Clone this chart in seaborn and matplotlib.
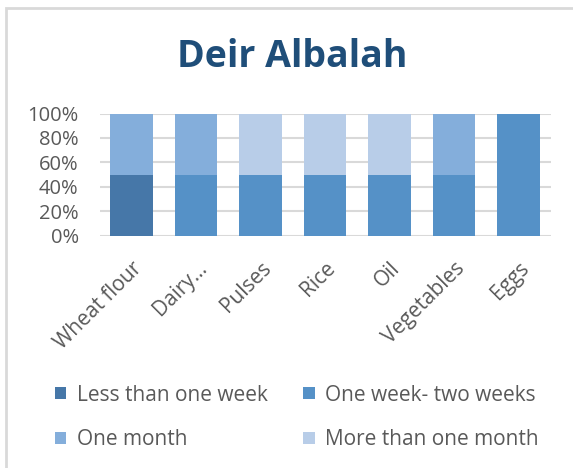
import matplotlib
matplotlib.use("Agg")
import matplotlib.pyplot as plt
import seaborn as sns
import pandas as pd
import numpy as np
from matplotlib.patches import Rectangle, Patch
from matplotlib.ticker import FuncFormatter

categories = ["Wheat flour", "Dairy…", "Pulses", "Rice", "Oil", "Vegetables", "Eggs"]
series_names = ["Less than one week", "One week- two weeks", "One month", "More than one month"]
less_than_week = [50, 0, 0, 0, 0, 0, 0]
one_two_weeks = [0, 50, 50, 50, 50, 50, 100]
one_month = [50, 50, 0, 0, 0, 50, 0]
more_than_month = [0, 0, 50, 50, 50, 0, 0]
colors = ["#4677A8", "#5591C7", "#84AEDB", "#B8CDE8"]
title = "Deir Albalah"

sns.set_theme(style="white")
plt.rcParams["font.family"] = ["Open Sans", "DejaVu Sans"]

W, H = 573, 468
fig = plt.figure(figsize=(W/100, H/100), dpi=100)
ax = fig.add_axes([99.5/W, 1-235.5/H, 451/W, 122/H])

values = [less_than_week, one_two_weeks, one_month, more_than_month]
cum = np.cumsum(np.array(values), axis=0)
for i in range(len(series_names) - 1, -1, -1):
    df = pd.DataFrame({"cat": categories, "val": cum[i]})
    sns.barplot(data=df, x="cat", y="val", color=colors[i], saturation=1,
                width=0.66, ax=ax, order=categories, zorder=3, linewidth=0)

ax.set_ylim(0, 100)
ax.set_yticks([0, 20, 40, 60, 80, 100])
ax.yaxis.set_major_formatter(FuncFormatter(lambda v, p: f"{int(v)}%"))
ax.set_xlabel("")
ax.set_ylabel("")
ax.grid(axis="y", color="#D9D9D9", linewidth=1.5, zorder=0)
ax.set_axisbelow(True)
for s in ax.spines.values():
    s.set_visible(False)
ax.tick_params(axis="both", length=0, colors="#595959", labelsize=14.5)
ax.tick_params(axis="y", pad=15)
ax.set_xticks(range(len(categories)))
ax.set_xticklabels(categories, rotation=45, ha="right", rotation_mode="anchor")
ax.tick_params(axis="x", pad=16, labelsize=15)
ax.set_xlim(-0.5, len(categories) - 0.5)

fig.text(292/W, 1-67/H, title, ha="center", va="baseline", fontsize=27,
         fontweight="bold", color="#1F4E79")

order = [0, 2, 1, 3]
handles = [Patch(facecolor=colors[i], edgecolor="none") for i in order]
labels = [series_names[i] for i in order]
fig.legend(handles, labels, ncol=2, loc="center left", bbox_to_anchor=(55/W, 1-417.5/H),
           frameon=False, fontsize=15, labelcolor="#595959", handlelength=0.55, handleheight=0.55,
           handletextpad=0.5, columnspacing=1.7, labelspacing=1.15, borderaxespad=0, borderpad=0)

fig.patches.append(Rectangle((6/W, -0.1), 1.2, 1-8/H + 0.1, transform=fig.transFigure,
                             fill=False, edgecolor="#D9D9D9", linewidth=2))

fig.savefig("out.png", dpi=100)
